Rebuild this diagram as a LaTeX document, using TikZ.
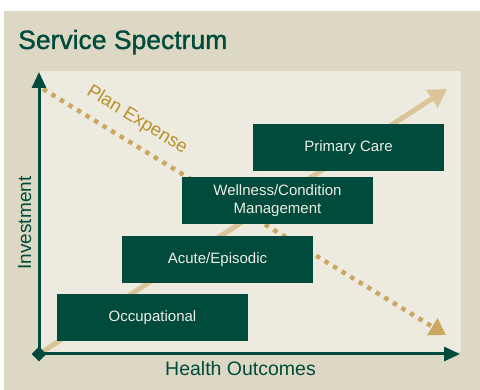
\documentclass[tikz,border=0pt]{standalone}
\usepackage{fontspec}
\setmainfont{Liberation Sans}
\newfontfamily\titlefont[FakeBold=1.3]{Liberation Sans}
\usepackage{xcolor}
\usetikzlibrary{arrows.meta}
\usetikzlibrary{shapes.geometric}

\definecolor{outerbg}{HTML}{DDD8C3}
\definecolor{innerbg}{HTML}{EDEAE0}
\definecolor{dkgreen}{HTML}{004B3B}
\definecolor{ltgold}{HTML}{D9C597}
\definecolor{dotgold}{HTML}{CBA862}
\definecolor{txtgold}{HTML}{B8912A}
\definecolor{boxtext}{HTML}{EEEEE6}

\begin{document}
\begin{tikzpicture}[x=1pt,y=-1pt]
\tikzset{svcbox/.style={fill=dkgreen, text=boxtext, minimum width=191pt, minimum height=47pt, inner sep=0pt, align=center, font=\fontsize{15}{18}\selectfont}}
\tikzstyle{axis} = [draw=dkgreen, line width=3pt, -{Triangle[width=14pt,length=16pt]}]
\tikzstyle{growth} = [draw=ltgold, line width=5pt, -{Triangle[width=20pt,length=18pt]}]
\tikzstyle{expense} = [draw=dotgold, line width=4.5pt, dash pattern=on 4.5pt off 5.5pt, -{Triangle[width=19pt,length=16pt]}]

\useasboundingbox (0,0) rectangle (480,390);
\fill [outerbg] (4,11) rectangle (480,390);
\fill [innerbg] (40,71) rectangle (461,352);

\node (title) [anchor=base west, inner sep=0pt, text=dkgreen, font=\titlefont\fontsize{26.5}{30}\selectfont] at (18,49) {Service Spectrum};

\coordinate (o) at (39,354);
\coordinate (ytip) at (39,72);
\coordinate (xtip) at (460,354);
\coordinate (g1) at (447,89);
\coordinate (e0) at (43,89);
\coordinate (e1) at (446,335);

\draw [growth] (o) -- (g1);
\draw [expense] (e0) -- (e1);

\node (prim) [svcbox] at (348.5,147.5) {Primary Care};
\node (well) [svcbox] at (277.5,200.5) {Wellness/Condition\\Management};
\node (acute) [svcbox] at (217.5,259.5) {Acute/Episodic};
\node (occ) [svcbox] at (152.5,317.5) {Occupational};

\draw [axis] (o) -- (ytip);
\draw [axis] (o) -- (xtip);
\node (orig) [diamond, fill=dkgreen, minimum size=15pt, inner sep=0pt] at (o) {};

\node (plan) [rotate=-31.4, text=txtgold, inner sep=0pt, font=\fontsize{18.5}{20}\selectfont] at (137,120) {Plan Expense};
\node (yl) [rotate=90, anchor=base, inner sep=0pt, text=dkgreen, font=\fontsize{19}{22}\selectfont] at (31,223) {Investment};
\node (xl) [anchor=base, inner sep=0pt, text=dkgreen, font=\fontsize{19.5}{22}\selectfont] at (240.5,376) {Health Outcomes};
\end{tikzpicture}
\end{document}
